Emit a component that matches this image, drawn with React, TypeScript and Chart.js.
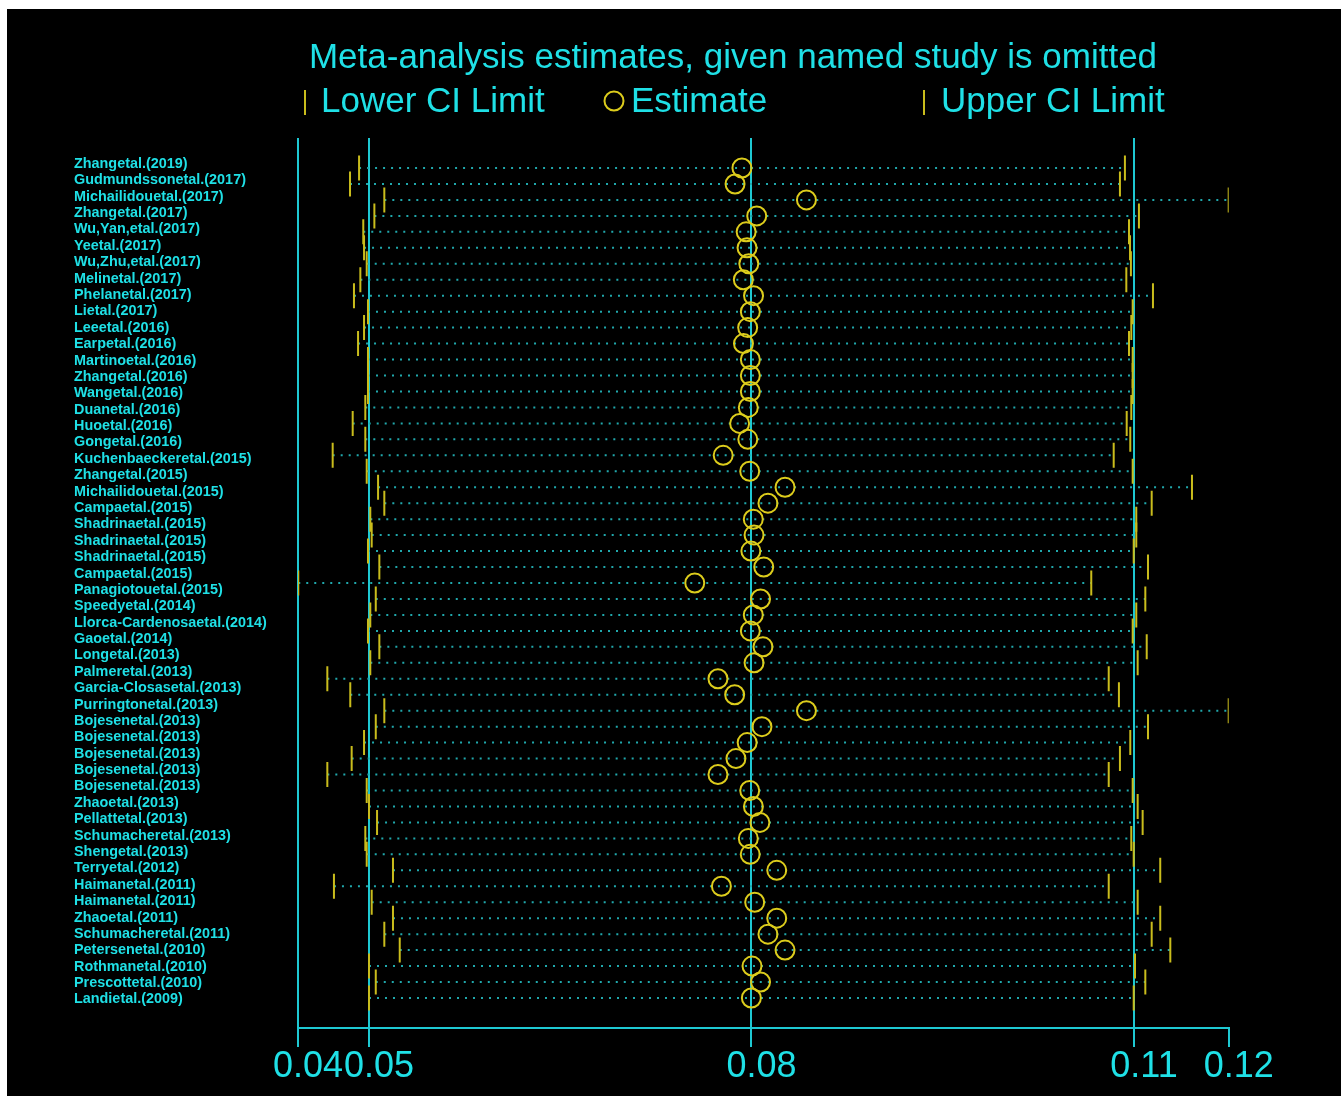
import React, { useEffect, useRef } from 'react';
import { Chart, registerables } from 'chart.js';

Chart.register(...registerables);

const titleText = 'Meta-analysis estimates, given named study is omitted';
const legendLabels = ['Lower CI Limit', 'Estimate', 'Upper CI Limit'];

const studyLabels = [
  'Zhangetal.(2019)', 'Gudmundssonetal.(2017)', 'Michailidouetal.(2017)', 'Zhangetal.(2017)',
  'Wu,Yan,etal.(2017)', 'Yeetal.(2017)', 'Wu,Zhu,etal.(2017)', 'Melinetal.(2017)',
  'Phelanetal.(2017)', 'Lietal.(2017)', 'Leeetal.(2016)', 'Earpetal.(2016)',
  'Martinoetal.(2016)', 'Zhangetal.(2016)', 'Wangetal.(2016)', 'Duanetal.(2016)',
  'Huoetal.(2016)', 'Gongetal.(2016)', 'Kuchenbaeckeretal.(2015)', 'Zhangetal.(2015)',
  'Michailidouetal.(2015)', 'Campaetal.(2015)', 'Shadrinaetal.(2015)', 'Shadrinaetal.(2015)',
  'Shadrinaetal.(2015)', 'Campaetal.(2015)', 'Panagiotouetal.(2015)', 'Speedyetal.(2014)',
  'Llorca-Cardenosaetal.(2014)', 'Gaoetal.(2014)', 'Longetal.(2013)', 'Palmeretal.(2013)',
  'Garcia-Closasetal.(2013)', 'Purringtonetal.(2013)', 'Bojesenetal.(2013)', 'Bojesenetal.(2013)',
  'Bojesenetal.(2013)', 'Bojesenetal.(2013)', 'Bojesenetal.(2013)', 'Zhaoetal.(2013)',
  'Pellattetal.(2013)', 'Schumacheretal.(2013)', 'Shengetal.(2013)', 'Terryetal.(2012)',
  'Haimanetal.(2011)', 'Haimanetal.(2011)', 'Zhaoetal.(2011)', 'Schumacheretal.(2011)',
  'Petersenetal.(2010)', 'Rothmanetal.(2010)', 'Prescottetal.(2010)', 'Landietal.(2009)',
];

const lowerCI = [
  0.04922, 0.04851, 0.05120, 0.05042, 0.04955, 0.04961, 0.04982, 0.04932, 0.04882, 0.04992,
  0.04961, 0.04914, 0.04992, 0.04992, 0.04992, 0.04971, 0.04872, 0.04971, 0.04715, 0.04982,
  0.05071, 0.05120, 0.05010, 0.05021, 0.04992, 0.05081, 0.04445, 0.05053, 0.05010, 0.04992,
  0.05081, 0.05010, 0.04673, 0.04853, 0.05120, 0.05053, 0.04961, 0.04864, 0.04673, 0.04982,
  0.05000, 0.05063, 0.04971, 0.04982, 0.05188, 0.04725, 0.05021, 0.05188, 0.05120, 0.05241,
  0.05000, 0.05053, 0.05000,
];

const estimates = [
  0.07925, 0.07871, 0.08431, 0.08041, 0.07958, 0.07965, 0.07979, 0.07936, 0.08016, 0.07991,
  0.07970, 0.07937, 0.07991, 0.07991, 0.07991, 0.07975, 0.07907, 0.07971, 0.07778, 0.07986,
  0.08263, 0.08129, 0.08014, 0.08020, 0.07995, 0.08096, 0.07555, 0.08071, 0.08014, 0.07991,
  0.08090, 0.08020, 0.07737, 0.07868, 0.08431, 0.08082, 0.07966, 0.07878, 0.07737, 0.07986,
  0.08015, 0.08066, 0.07975, 0.07990, 0.08198, 0.07764, 0.08025, 0.08198, 0.08129, 0.08263,
  0.08004, 0.08071, 0.07999,
];

const upperCI = [
  0.10929, 0.10890, 0.11743, 0.11039, 0.10961, 0.10969, 0.10976, 0.10940, 0.11149, 0.10990,
  0.10979, 0.10961, 0.10990, 0.10990, 0.10990, 0.10979, 0.10943, 0.10971, 0.10841, 0.10990,
  0.11455, 0.11139, 0.11018, 0.11018, 0.10998, 0.11110, 0.10665, 0.11089, 0.11018, 0.10990,
  0.11100, 0.11029, 0.10802, 0.10882, 0.11743, 0.11110, 0.10971, 0.10890, 0.10802, 0.10990,
  0.11029, 0.11068, 0.10979, 0.10998, 0.11206, 0.10802, 0.11029, 0.11206, 0.11139, 0.11285,
  0.11008, 0.11089, 0.10998,
];

const xTickValues = [0.04443, 0.05, 0.08, 0.11, 0.11743];

const FONT = "'Liberation Sans', Arial, sans-serif";
const TEXT = '#1fe0e6';
const LINE = '#1ec8d2';
const DOT = '#20a8ac';
const YEL_TICK = '#c9bc1c';
const YEL_CIRC = '#dccc1c';

const headerPlugin = {
  id: 'header',
  afterDraw(chart: any) {
    const ctx = chart.ctx;
    ctx.save();
    ctx.fillStyle = TEXT;
    ctx.font = `35px ${FONT}`;
    ctx.textBaseline = 'alphabetic';
    ctx.textAlign = 'center';
    ctx.fillText(titleText, 726, 58.5);
    ctx.textAlign = 'left';
    ctx.fillText(legendLabels[0], 314, 102.7);
    ctx.fillText(legendLabels[1], 624, 102.7);
    ctx.fillText(legendLabels[2], 934, 102.7);
    ctx.strokeStyle = YEL_TICK;
    ctx.lineWidth = 2;
    ctx.beginPath();
    ctx.moveTo(298, 81);
    ctx.lineTo(298, 106);
    ctx.moveTo(917, 81);
    ctx.lineTo(917, 106);
    ctx.stroke();
    ctx.strokeStyle = YEL_CIRC;
    ctx.beginPath();
    ctx.arc(607, 92, 9.5, 0, Math.PI * 2);
    ctx.stroke();
    ctx.restore();
  },
};

export default function App() {
  const canvasRef = useRef<HTMLCanvasElement | null>(null);

  useEffect(() => {
    document.body.style.margin = '0';
    document.body.style.background = '#ffffff';
    const canvas = canvasRef.current;
    if (!canvas) return;

    const rows = estimates.map((_, i) => i + 1);

    const lineSets = rows.map((r, i) => ({
      type: 'scatter' as const,
      data: [
        { x: lowerCI[i], y: r },
        { x: upperCI[i], y: r },
      ],
      showLine: true,
      borderColor: DOT,
      borderWidth: 2,
      borderDash: [2, 6],
      pointRadius: 0,
      order: 3,
    }));

    const datasets: any[] = [
      ...lineSets,
      {
        label: legendLabels[0],
        data: rows.map((r, i) => ({ x: lowerCI[i], y: r })),
        pointStyle: 'line',
        rotation: 90,
        pointRadius: 12.5,
        borderColor: YEL_TICK,
        backgroundColor: YEL_TICK,
        borderWidth: 2,
        order: 2,
      },
      {
        label: legendLabels[2],
        data: rows.map((r, i) => ({ x: upperCI[i], y: r })),
        pointStyle: 'line',
        rotation: 90,
        pointRadius: 12.5,
        borderColor: YEL_TICK,
        backgroundColor: YEL_TICK,
        borderWidth: 2,
        order: 2,
      },
      {
        label: legendLabels[1],
        data: rows.map((r, i) => ({ x: estimates[i], y: r })),
        pointStyle: 'circle',
        pointRadius: 9.5,
        borderColor: YEL_CIRC,
        backgroundColor: 'rgba(0,0,0,0)',
        borderWidth: 2,
        order: 1,
      },
    ];

    const chart = new Chart(canvas, {
      type: 'scatter',
      data: { datasets },
      options: {
        responsive: false,
        animation: false,
        events: [],
        layout: { padding: { top: 129, left: 67, right: 112.3, bottom: 0 } },
        plugins: {
          legend: { display: false },
          title: { display: false },
          tooltip: { enabled: false },
        },
        scales: {
          x: {
            type: 'linear',
            position: 'bottom',
            min: xTickValues[0],
            max: xTickValues[xTickValues.length - 1],
            afterBuildTicks: (ax: any) => {
              ax.ticks = xTickValues.map((v) => ({ value: v }));
            },
            afterFit: (ax: any) => {
              ax.height = 68;
            },
            ticks: {
              autoSkip: false,
              maxRotation: 0,
              minRotation: 0,
              color: TEXT,
              padding: 2,
              labelOffset: 10,
              font: { family: FONT, size: 36, lineHeight: 1 },
              callback: (v: any) => Number(v).toFixed(2),
            },
            grid: {
              color: (c: any) => (c.index === xTickValues.length - 1 ? 'rgba(0,0,0,0)' : LINE),
              tickColor: LINE,
              lineWidth: 2,
              tickLength: 19,
              drawTicks: true,
            },
            border: { display: true, color: LINE, width: 2 },
          },
          y: {
            type: 'linear',
            display: false,
            reverse: true,
            min: -0.88,
            max: 54.88,
          },
          yl: {
            type: 'linear',
            position: 'left',
            reverse: true,
            min: -0.587,
            max: 53.74,
            afterBuildTicks: (ax: any) => {
              ax.ticks = studyLabels.map((_, i) => ({ value: i + 1 }));
            },
            afterFit: (ax: any) => {
              ax.width = 224;
            },
            ticks: {
              autoSkip: false,
              crossAlign: 'far',
              color: TEXT,
              font: { family: FONT, size: 14.4, weight: 'bold' },
              callback: (v: any) => studyLabels[Math.round(Number(v)) - 1] ?? '',
            },
            grid: { display: false },
            border: { display: false },
          },
        } as any,
      },
      plugins: [headerPlugin],
    } as any);

    return () => chart.destroy();
  }, []);

  return (
    <div style={{ position: 'relative', width: 1341, height: 1105, background: '#ffffff' }}>
      <div style={{ position: 'absolute', left: 7, top: 9, width: 1334, height: 1087, background: '#000000' }}>
        <canvas ref={canvasRef} width={1334} height={1087} style={{ display: 'block' }} />
      </div>
    </div>
  );
}
